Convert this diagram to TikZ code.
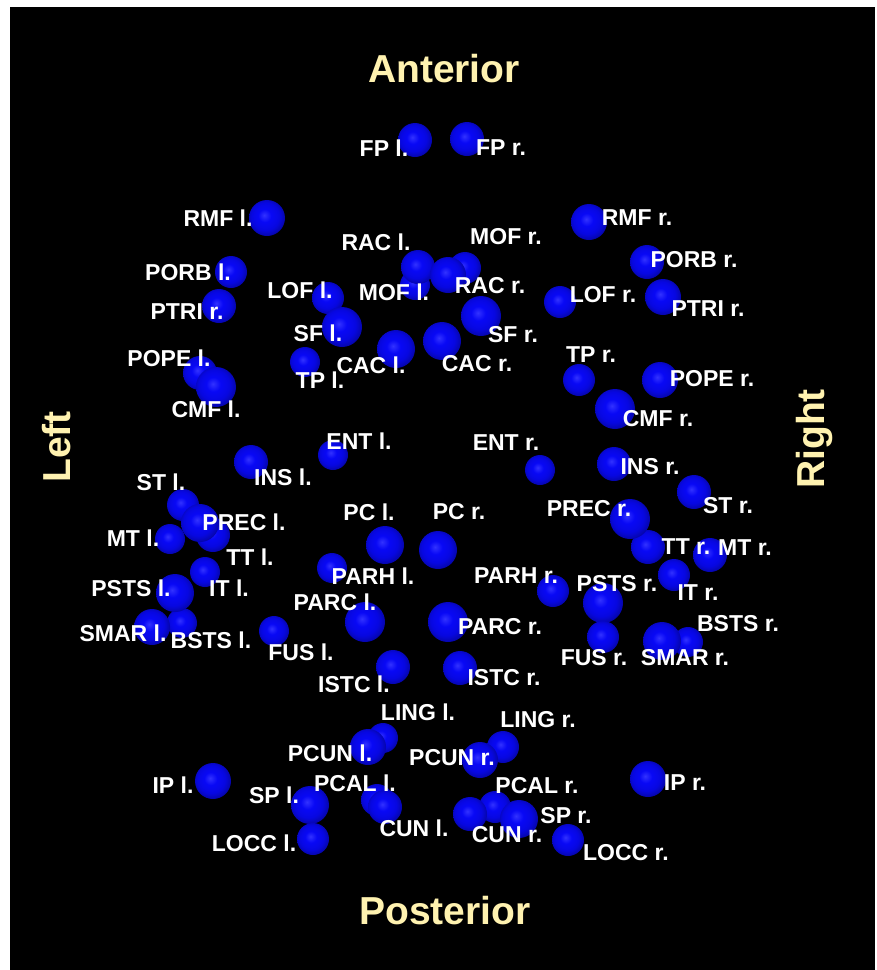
\documentclass[tikz,border=0pt]{standalone}
\usepackage{fontspec}
\setmainfont{Liberation Sans}
\usepackage{xcolor}
\usetikzlibrary{positioning}
\definecolor{ballblue}{RGB}{8,8,245}
\definecolor{ballhi}{RGB}{50,50,255}
\definecolor{ballrim}{RGB}{0,0,135}
\definecolor{dircol}{RGB}{255,242,176}
\pgfdeclareradialshading{sphereblue}{\pgfpoint{-4bp}{4bp}}{color(0bp)=(ballhi); color(9bp)=(ballblue); color(19bp)=(ballblue!92!black); color(25bp)=(ballblue!75!black); color(31bp)=(ballrim); color(50bp)=(ballrim)}
\tikzset{
  region/.style={circle, inner sep=0pt, minimum size=#1, shading=sphereblue},
  lbl/.style={text=white, inner sep=0pt, font=\bfseries\fontsize{23}{23}\selectfont},
  dir/.style={text=dircol, inner sep=0pt, font=\bfseries\fontsize{39}{39}\selectfont}
}

\begin{document}
\begin{tikzpicture}[x=1pt, y=-1pt]
  \fill[white] (0,0) rectangle (877,970);
  \fill[black] (10,7) rectangle (875,970);
  \useasboundingbox (0,0) rectangle (877,970);
  % directions
  \node[dir] (ant) at (444,69) {Anterior};
  \node[dir] (post) at (445,911) {Posterior};
  \node[dir, rotate=90] (lft) at (57,447) {Left};
  \node[dir, rotate=90] (rgt) at (814,439) {Right};
  % left hemisphere
  \node[region=34pt] (fpL) at (415,140) {};
  \node[region=36pt] (rmfL) at (267,218) {};
  \node[region=30pt] (mofL) at (415,285) {};
  \node[region=34pt] (racL) at (418,267) {};
  \node[region=32pt] (porbL) at (231,272) {};
  \node[region=32pt] (lofL) at (328,298) {};
  \node[region=34pt] (ptriL) at (219,306) {};
  \node[region=40pt] (sfL) at (342,327) {};
  \node[region=38pt] (cacL) at (396,349) {};
  \node[region=30pt] (tpL) at (305,362) {};
  \node[region=34pt] (popeL) at (200,373) {};
  \node[region=40pt] (cmfL) at (216,387) {};
  \node[region=30pt] (entL) at (333,455) {};
  \node[region=34pt] (insL) at (251,462) {};
  \node[region=32pt] (stL) at (183,505) {};
  \node[region=34pt] (ttL) at (213,535) {};
  \node[region=38pt] (precL) at (200,523) {};
  \node[region=30pt] (mtL) at (170,539) {};
  \node[region=38pt] (pcL) at (385,545) {};
  \node[region=30pt] (parhL) at (332,568) {};
  \node[region=30pt] (itL) at (205,572) {};
  \node[region=30pt] (bstsL) at (182,623) {};
  \node[region=38pt] (pstsL) at (175,593) {};
  \node[region=40pt] (parcL) at (365,622) {};
  \node[region=36pt] (smarL) at (152,627) {};
  \node[region=30pt] (fusL) at (274,631) {};
  \node[region=34pt] (istcL) at (393,667) {};
  \node[region=30pt] (lingL) at (383,738) {};
  \node[region=36pt] (pcunL) at (368,747) {};
  \node[region=36pt] (ipL) at (213,781) {};
  \node[region=32pt] (pcalL) at (377,800) {};
  \node[region=34pt] (cunL) at (385,807) {};
  \node[region=38pt] (spL) at (310,805) {};
  \node[region=32pt] (loccL) at (313,839) {};
  % right hemisphere
  \node[region=34pt] (fpR) at (467,139) {};
  \node[region=36pt] (rmfR) at (589,222) {};
  \node[region=32pt] (mofR) at (465,268) {};
  \node[region=36pt] (racR) at (448,275) {};
  \node[region=34pt] (porbR) at (647,262) {};
  \node[region=32pt] (lofR) at (560,302) {};
  \node[region=36pt] (ptriR) at (663,297) {};
  \node[region=40pt] (sfR) at (481,316) {};
  \node[region=38pt] (cacR) at (442,341) {};
  \node[region=32pt] (tpR) at (579,380) {};
  \node[region=36pt] (popeR) at (660,380) {};
  \node[region=40pt] (cmfR) at (615,409) {};
  \node[region=30pt] (entR) at (540,470) {};
  \node[region=34pt] (insR) at (614,464) {};
  \node[region=34pt] (stR) at (694,492) {};
  \node[region=34pt] (ttR) at (648,547) {};
  \node[region=40pt] (precR) at (630,519) {};
  \node[region=34pt] (mtR) at (710,555) {};
  \node[region=38pt] (pcR) at (438,550) {};
  \node[region=32pt] (parhR) at (553,591) {};
  \node[region=32pt] (itR) at (674,575) {};
  \node[region=40pt] (pstsR) at (603,603) {};
  \node[region=40pt] (parcR) at (448,622) {};
  \node[region=30pt] (bstsR) at (688,642) {};
  \node[region=38pt] (smarR) at (662,641) {};
  \node[region=32pt] (fusR) at (603,637) {};
  \node[region=34pt] (istcR) at (460,668) {};
  \node[region=32pt] (lingR) at (503,747) {};
  \node[region=36pt] (pcunR) at (480,760) {};
  \node[region=36pt] (ipR) at (648,779) {};
  \node[region=32pt] (pcalR) at (495,807) {};
  \node[region=34pt] (cunR) at (470,814) {};
  \node[region=38pt] (spR) at (519,819) {};
  \node[region=32pt] (loccR) at (568,840) {};
  % labels, left
  \node[lbl] (fpLl) at (384,148) {FP l.};
  \node[lbl] (rmfLl) at (218,218) {RMF l.};
  \node[lbl] (racLl) at (376,242) {RAC l.};
  \node[lbl] (porbLl) at (188,272) {PORB l.};
  \node[lbl] (lofLl) at (300,290) {LOF l.};
  \node[lbl] (mofLl) at (394,292) {MOF l.};
  \node[lbl] (ptriLl) at (187,312) {PTRI r.};
  \node[lbl] (sfLl) at (318,333) {SF l.};
  \node[lbl] (cacLl) at (371,365) {CAC l.};
  \node[lbl] (tpLl) at (320,380) {TP l.};
  \node[lbl] (popeLl) at (169,358) {POPE l.};
  \node[lbl] (cmfLl) at (206,409) {CMF l.};
  \node[lbl] (entLl) at (359,441) {ENT l.};
  \node[lbl] (insLl) at (283,477) {INS l.};
  \node[lbl] (stLl) at (161,482) {ST l.};
  \node[lbl] (precLl) at (244,522) {PREC l.};
  \node[lbl] (mtLl) at (133,538) {MT l.};
  \node[lbl] (ttLl) at (250,557) {TT l.};
  \node[lbl] (pcLl) at (369,512) {PC l.};
  \node[lbl] (parhLl) at (373,576) {PARH l.};
  \node[lbl] (itLl) at (229,588) {IT l.};
  \node[lbl] (pstsLl) at (131,588) {PSTS l.};
  \node[lbl] (parcLl) at (335,602) {PARC l.};
  \node[lbl] (smarLl) at (123,633) {SMAR l.};
  \node[lbl] (bstsLl) at (211,640) {BSTS l.};
  \node[lbl] (fusLl) at (301,652) {FUS l.};
  \node[lbl] (istcLl) at (354,684) {ISTC l.};
  \node[lbl] (lingLl) at (418,712) {LING l.};
  \node[lbl] (pcunLl) at (330,753) {PCUN l.};
  \node[lbl] (ipLl) at (173,785) {IP l.};
  \node[lbl] (pcalLl) at (355,783) {PCAL l.};
  \node[lbl] (spLl) at (274,795) {SP l.};
  \node[lbl] (cunLl) at (414,828) {CUN l.};
  \node[lbl] (loccLl) at (254,843) {LOCC l.};
  % labels, right
  \node[lbl] (fpRl) at (501,148) {FP r.};
  \node[lbl] (rmfRl) at (637,218) {RMF r.};
  \node[lbl] (mofRl) at (506,237) {MOF r.};
  \node[lbl] (porbRl) at (694,260) {PORB r.};
  \node[lbl] (racRl) at (490,286) {RAC r.};
  \node[lbl] (lofRl) at (603,295) {LOF r.};
  \node[lbl] (ptriRl) at (708,309) {PTRI r.};
  \node[lbl] (sfRl) at (513,335) {SF r.};
  \node[lbl] (cacRl) at (477,364) {CAC r.};
  \node[lbl] (tpRl) at (591,355) {TP r.};
  \node[lbl] (popeRl) at (712,379) {POPE r.};
  \node[lbl] (cmfRl) at (658,419) {CMF r.};
  \node[lbl] (entRl) at (506,443) {ENT r.};
  \node[lbl] (insRl) at (650,467) {INS r.};
  \node[lbl] (stRl) at (728,506) {ST r.};
  \node[lbl] (precRl) at (589,509) {PREC r.};
  \node[lbl] (pcRl) at (459,512) {PC r.};
  \node[lbl] (ttRl) at (686,547) {TT r.};
  \node[lbl] (mtRl) at (745,548) {MT r.};
  \node[lbl] (parhRl) at (516,576) {PARH r.};
  \node[lbl] (pstsRl) at (617,584) {PSTS r.};
  \node[lbl] (itRl) at (698,593) {IT r.};
  \node[lbl] (bstsRl) at (738,624) {BSTS r.};
  \node[lbl] (parcRl) at (500,627) {PARC r.};
  \node[lbl] (fusRl) at (594,658) {FUS r.};
  \node[lbl] (smarRl) at (685,658) {SMAR r.};
  \node[lbl] (istcRl) at (504,678) {ISTC r.};
  \node[lbl] (lingRl) at (538,720) {LING r.};
  \node[lbl] (pcunRl) at (452,758) {PCUN r.};
  \node[lbl] (ipRl) at (685,783) {IP r.};
  \node[lbl] (pcalRl) at (537,786) {PCAL r.};
  \node[lbl] (spRl) at (566,816) {SP r.};
  \node[lbl] (cunRl) at (507,835) {CUN r.};
  \node[lbl] (loccRl) at (626,853) {LOCC r.};
\end{tikzpicture}
\end{document}
